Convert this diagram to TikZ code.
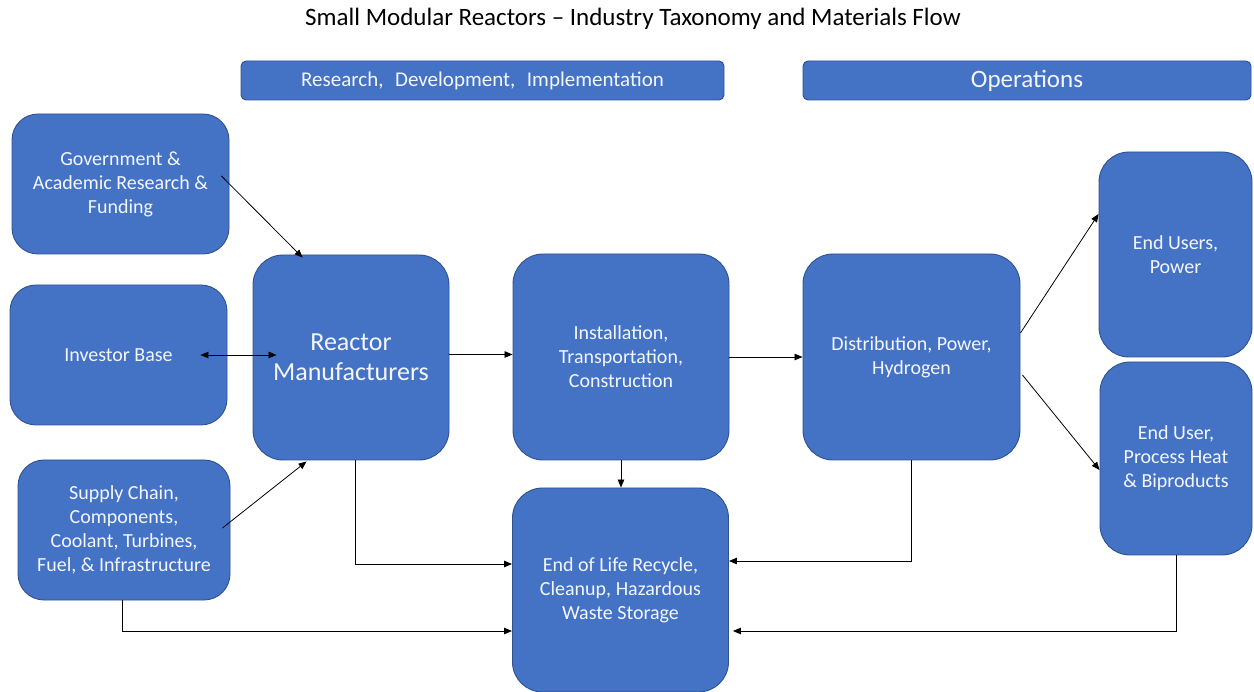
\documentclass[tikz,border=0pt]{standalone}
\usepackage{fontspec}
\setmainfont{Carlito}
\usetikzlibrary{arrows.meta,calc}
\definecolor{boxblue}{HTML}{4472C4}
\definecolor{boxedge}{HTML}{2F528F}
\definecolor{boxtext}{HTML}{F4F6FB}
\tikzset{
  box/.style={draw=boxedge, line width=0.9pt, fill=boxblue, rounded corners=26pt,
    text=boxtext, align=center, inner sep=2pt,
    font=\fontsize{20}{24}\selectfont},
  bigbox/.style={box, rounded corners=30pt},
  header/.style={draw=boxedge, line width=0.9pt, fill=boxblue, rounded corners=5pt,
    text=boxtext, align=center, inner sep=0pt},
  flow/.style={draw=black, line width=0.8pt, -{Triangle[length=8pt,width=6.5pt]}},
}
\begin{document}
\begin{tikzpicture}[x=1pt,y=-1pt]
\useasboundingbox (0,0) rectangle (1254,692);

% title
\node[font=\fontsize{25}{28}\selectfont] (title) at (633,19)
  {Small Modular Reactors – Industry Taxonomy and Materials Flow};

% phase headers
\node[header, minimum width=483pt, minimum height=39pt,
  font=\fontsize{21}{25}\selectfont] (hrd) at (482.5,80.5)
  {Research,\hspace{0.55em}Development,\hspace{0.55em}Implementation};
\node[header, minimum width=448pt, minimum height=39pt,
  font=\fontsize{25}{28}\selectfont] (hop) at (1027,80.5) {Operations};

% left column: inputs
\node[box, minimum width=217pt, minimum height=140pt] (gov) at (120.5,184)
  {Government \&\\Academic Research \&\\Funding};
\node[box, minimum width=217pt, minimum height=140pt] (inv) at (118.5,355)
  {Investor Base};
\node[box, minimum width=212pt, minimum height=140pt] (sup) at (124,530)
  {Supply Chain,\\Components,\\Coolant, Turbines,\\Fuel, \& Infrastructure};

% main chain
\node[bigbox, minimum width=196pt, minimum height=205pt,
  font=\fontsize{26}{30}\selectfont] (rea) at (351,357.5)
  {Reactor\\Manufacturers};
\node[bigbox, minimum width=216pt, minimum height=206pt] (ins) at (621,357)
  {Installation,\\Transportation,\\Construction};
\node[bigbox, minimum width=217pt, minimum height=206pt] (dis) at (911.5,357)
  {Distribution, Power,\\Hydrogen};
\node[bigbox, minimum width=216pt, minimum height=204pt] (eol) at (620.5,590)
  {End of Life Recycle,\\Cleanup, Hazardous\\Waste Storage};

% end users
\node[bigbox, minimum width=153pt, minimum height=205pt] (eup) at (1175.5,254.5)
  {End Users,\\Power};
\node[bigbox, minimum width=152pt, minimum height=193pt] (eph) at (1176,458.5)
  {End User,\\Process Heat\\\& Biproducts};

% connectors into the reactor manufacturers
\draw[flow] ($(gov.east)+(-8,-8)$) -- ($(rea.north west)+(50,3)$);
\draw[flow, {Triangle[length=8pt,width=6.5pt]}-{Triangle[length=8pt,width=6.5pt]}]
  ($(inv.east)+(-27,0)$) -- ($(rea.west)+(24,-2.5)$);
\draw[flow] ($(sup.east)+(-8,-2)$) -- ($(rea.south west)+(54,1)$);

% main chain
\draw[flow] ($(rea.east)+(0,-3)$) -- ($(rea.east -| ins.west)+(0,-3)$);
\draw[flow] (ins.east) -- (ins.east -| dis.west);
\draw[flow] ($(dis.east)+(0,-24)$) -- ($(eup.west)+(0,-40.5)$);
\draw[flow] ($(dis.east)+(2,18)$) -- ($(eph.west)+(0,11.5)$);

% flows into end of life
\draw[flow] (ins.south) -- (ins.south |- eol.north);
\draw[flow] ($(rea.south)+(4,0)$) |- ($(eol.west)+(0,-26)$);
\draw[flow] ($(sup.south)+(-2,0)$) |- ($(eol.west)+(0,41)$);
\draw[flow] (dis.south) |- ($(eol.east)+(0,-29)$);
\draw[flow] (eph.south) |- ($(eol.east)+(4,41)$);
\end{tikzpicture}
\end{document}
